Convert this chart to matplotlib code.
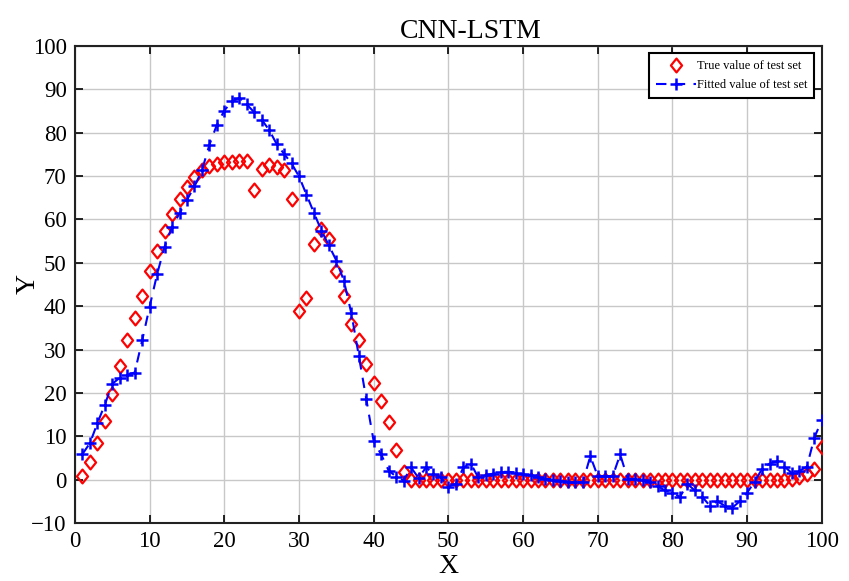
#!/usr/bin/env python3
import numpy as np
import matplotlib
matplotlib.use("Agg")
import matplotlib.pyplot as plt
from matplotlib.path import Path as MPath

plt.rcParams['font.family'] = ['Liberation Serif', 'DejaVu Serif']
plt.rcParams['mathtext.fontset'] = 'stix'

TITLE = "CNN-LSTM"
LABEL_TRUE = "True value of test set"
LABEL_FIT = "Fitted value of test set"

# sample index 1..100
x_idx = list(range(1, 101))

true_vals = [
    0.8, 4.0, 8.4, 13.6, 19.8, 26.2, 32.1, 37.2, 42.4, 48.0,
    52.6, 57.3, 61.2, 64.6, 67.4, 69.7, 71.3, 72.3, 72.8, 73.2,
    73.3, 73.4, 73.4, 66.7, 71.7, 72.6, 72.0, 71.3, 64.6, 38.8,
    41.8, 54.3, 57.8, 55.4, 48.1, 42.4, 35.8, 32.1, 26.6, 22.3,
    18.2, 13.3, 6.8, 1.7, 0.0, 0.0, 0.0, 0.0, 0.0, 0.0,
    0.0, 0.0, 0.0, 0.0, 0.0, 0.0, 0.0, 0.0, 0.0, 0.0,
    0.0, 0.0, 0.0, 0.0, 0.0, 0.0, 0.0, 0.0, 0.0, 0.0,
    0.0, 0.0, 0.0, 0.0, 0.0, 0.0, 0.0, 0.0, 0.0, 0.0,
    0.0, 0.0, 0.0, 0.0, 0.0, 0.0, 0.0, 0.0, 0.0, 0.0,
    0.0, 0.0, 0.0, 0.0, 0.0, 0.2, 0.7, 1.3, 2.5, 7.5,
]

fitted_vals = [
    5.9, 8.4, 13.0, 17.3, 22.1, 23.5, 24.2, 24.7, 32.1, 39.9,
    47.4, 53.7, 58.3, 61.4, 64.5, 67.6, 71.3, 77.2, 81.8, 85.1,
    87.2, 88.0, 86.5, 84.7, 83.0, 80.6, 77.4, 75.1, 72.9, 69.9,
    65.7, 61.5, 57.4, 54.0, 50.5, 45.9, 38.4, 28.6, 18.6, 8.8,
    5.8, 2.1, 0.7, -0.2, 2.8, 0.4, 2.8, 1.4, 0.5, -1.6,
    -1.0, 2.8, 3.7, 0.5, 1.0, 1.4, 1.8, 1.8, 1.6, 1.2,
    1.0, 0.5, 0.2, 0.0, -0.3, -0.5, -0.6, -0.6, 5.4, 0.8,
    0.8, 0.8, 5.8, 0.2, 0.2, 0.0, -0.5, -1.5, -2.5, -3.0,
    -4.0, -1.0, -2.5, -4.0, -6.0, -5.0, -6.0, -6.5, -5.0, -3.0,
    -0.5, 2.5, 3.7, 4.2, 3.0, 1.5, 2.0, 3.0, 9.7, 13.7,
]

x_ticks = list(range(0, 101, 10))
y_ticks = list(range(-10, 101, 10))

# slightly tall diamond, like the matlab one
DIAMOND = MPath([(0, 1), (0.8, 0), (0, -1), (-0.8, 0), (0, 1)],
                [MPath.MOVETO, MPath.LINETO, MPath.LINETO, MPath.LINETO, MPath.CLOSEPOLY])


def main():
    fig = plt.figure(figsize=(8.49, 5.81), dpi=100)
    ax = fig.add_axes([0.0883, 0.0998, 0.8797, 0.8212])

    ax.plot(x_idx, true_vals, linestyle='none', marker=DIAMOND, markersize=10,
            markerfacecolor='none', markeredgecolor='red', markeredgewidth=1.6,
            label=LABEL_TRUE, zorder=3)
    ax.plot(x_idx, fitted_vals, linestyle='--', dashes=(5, 4), color='blue',
            linewidth=1.5, marker='+', markersize=8, markeredgewidth=1.8,
            label=LABEL_FIT, zorder=4)

    ax.set_xlim(0, 100)
    ax.set_ylim(-10, 100)
    ax.set_xticks(x_ticks)
    ax.set_yticks(y_ticks)
    ax.tick_params(axis='both', direction='in', length=6, width=1.2,
                   labelsize=16.5, top=True, right=True, pad=6)
    ax.grid(True, color='#c8c8c8', linewidth=1.0)
    ax.set_axisbelow(True)
    for sp in ax.spines.values():
        sp.set_linewidth(1.5)
        sp.set_color('#222222')

    # X sits tight under the tick labels so it stays inside the canvas
    ax.set_xlabel("X", fontsize=20, labelpad=1)
    ax.set_ylabel("Y", fontsize=20, labelpad=-7)
    ax.set_title(TITLE, fontsize=20, x=0.53, pad=6)

    leg = ax.legend(loc='upper right', fontsize=9, frameon=True, fancybox=False,
                    borderaxespad=0.6, handlelength=3.2, handletextpad=0.1,
                    borderpad=0.55, labelspacing=0.55)
    leg.get_frame().set_edgecolor('black')
    leg.get_frame().set_linewidth(1.5)
    leg.get_frame().set_alpha(1.0)

    fig.savefig("out.png", dpi=100)
    plt.close(fig)


if __name__ == '__main__':
    main()
